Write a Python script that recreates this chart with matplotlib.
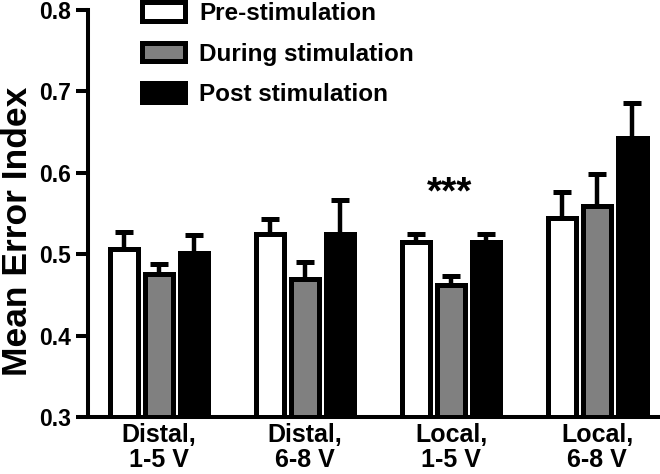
import matplotlib
matplotlib.use('Agg')
import matplotlib.pyplot as plt
import numpy as np
from matplotlib.patches import Patch

categories = ["Distal,\n1-5 V", "Distal,\n6-8 V", "Local,\n1-5 V", "Local,\n6-8 V"]
series = ["Pre-stimulation", "During stimulation", "Post stimulation"]
pre = [0.506, 0.525, 0.515, 0.544]
pre_err = [0.021, 0.018, 0.010, 0.033]
during = [0.476, 0.470, 0.462, 0.559]
during_err = [0.012, 0.021, 0.011, 0.040]
post = [0.502, 0.525, 0.515, 0.643]
post_err = [0.022, 0.042, 0.010, 0.043]
yticks = [0.3, 0.4, 0.5, 0.6, 0.7, 0.8]
colors = ['white', '#808080', 'black']

plt.rcParams['font.family'] = ['Liberation Sans', 'DejaVu Sans']
plt.rcParams['font.weight'] = 'bold'

fig = plt.figure(figsize=(6.6, 4.74), dpi=100)
ax = fig.add_axes([88/660, 1-417/474, (660-88)/660, (417-10)/474])

x = np.arange(len(categories))
pitch = 0.2417
width = 0.192
base = 0.3
data = [(pre, pre_err), (during, during_err), (post, post_err)]
for i, ((vals, errs), c) in enumerate(zip(data, colors)):
    xs = x + (i - 1) * pitch
    vals = np.array(vals)
    ax.bar(xs, vals - base, bottom=base, width=width, color=c,
           edgecolor='black', linewidth=3.6, zorder=3)
    ax.errorbar(xs, vals, yerr=[np.zeros(len(vals)), errs], fmt='none',
                ecolor='black', elinewidth=3.2, capsize=6.8, capthick=3.6,
                zorder=2)

ax.text(1.99, 0.562, '***', ha='center', va='baseline', fontsize=28,
        fontweight='bold')

ax.set_ylim(0.3, 0.8)
ax.set_xlim(-0.486, 3.43)
ax.set_yticks(yticks)
ax.set_yticklabels([f"{t:.1f}" for t in yticks])
ax.set_xticks(x)
ax.set_xticklabels(categories, linespacing=1.05)
ax.tick_params(axis='y', length=9, width=2.9, labelsize=16.5, pad=3)
ax.tick_params(axis='x', length=0, labelsize=18, pad=4)
for s in ['top', 'right']:
    ax.spines[s].set_visible(False)
for s in ['left', 'bottom']:
    ax.spines[s].set_linewidth(2.9)
ax.set_ylabel('Mean Error Index', fontsize=25.5, fontweight='bold')
ax.yaxis.set_label_coords(-0.094, 0.455)

handles = [Patch(facecolor=c, edgecolor='black', linewidth=3.6) for c in colors]
ax.legend(handles, series, loc='upper left', bbox_to_anchor=(142/660, 1-2/474),
          bbox_transform=fig.transFigure, frameon=False, borderpad=0,
          borderaxespad=0, handlelength=1.75, handleheight=0.8,
          handletextpad=0.6, labelspacing=0.72,
          prop={'size': 17.5, 'weight': 'bold'})

fig.savefig('out.png', dpi=100)
